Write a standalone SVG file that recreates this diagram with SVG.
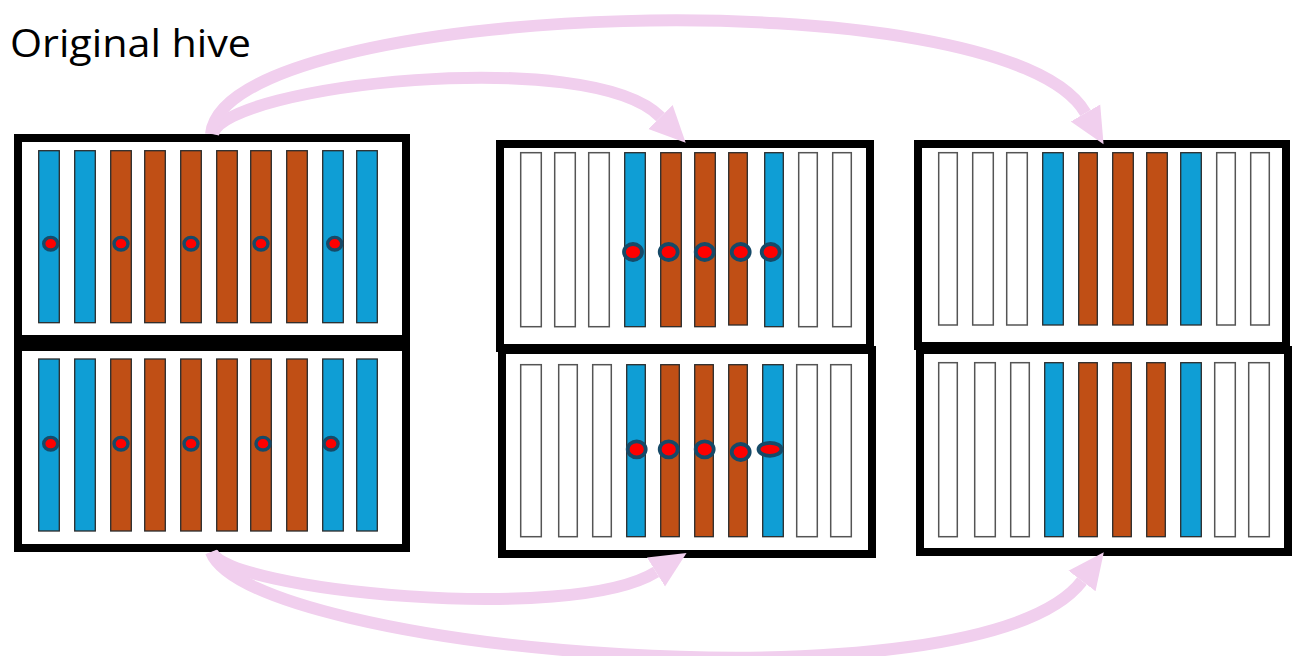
<svg xmlns="http://www.w3.org/2000/svg" width="1292" height="656" viewBox="0 0 1292 656">
<defs>
<style>
.box{fill:#fff;stroke:#000;stroke-width:8}
.b{fill:#0F9ED5;stroke:#2b2b2b;stroke-width:1.3}
.o{fill:#C04F15;stroke:#2b2b2b;stroke-width:1.3}
.w{fill:#fff;stroke:#555;stroke-width:1.5}
.d{fill:#FF0000;stroke:#164A68;stroke-width:3.4}
.dl{fill:#FF0000;stroke:#164A68;stroke-width:3.8}
.arc{fill:none;stroke:#F1CFEE;stroke-width:12}
.title{font-family:"Open Sans","Noto Sans",sans-serif;font-size:38px;fill:#000}
</style>
<marker id="ah" markerUnits="userSpaceOnUse" markerWidth="40" markerHeight="40" viewBox="0 -20 40 40" refX="0" refY="0" orient="auto">
<path d="M0,-17 L36,0 L0,17 z" fill="#F1CFEE"/>
</marker>
</defs>
<rect width="1292" height="656" fill="#fff"/>
<text class="title" x="10" y="57" textLength="241" lengthAdjust="spacingAndGlyphs">Original hive</text>

<g id="hive-original-top">
<rect class="box" x="18" y="138" width="388" height="201"/>
<rect class="b" x="38.7" y="150.7" width="20.6" height="172"/>
<rect class="b" x="74.7" y="150.7" width="20.6" height="172"/>
<rect class="o" x="110.7" y="150.7" width="20.6" height="172"/>
<rect class="o" x="144.7" y="150.7" width="20.6" height="172"/>
<rect class="o" x="180.7" y="150.7" width="20.6" height="172"/>
<rect class="o" x="216.7" y="150.7" width="20.6" height="172"/>
<rect class="o" x="250.7" y="150.7" width="20.6" height="172"/>
<rect class="o" x="286.7" y="150.7" width="20.6" height="172"/>
<rect class="b" x="322.7" y="150.7" width="20.6" height="172"/>
<rect class="b" x="356.7" y="150.7" width="20.6" height="172"/>
<ellipse class="d" cx="50.7" cy="243.7" rx="7" ry="6.3"/>
<ellipse class="d" cx="121" cy="243.7" rx="7" ry="6.3"/>
<ellipse class="d" cx="191" cy="243.7" rx="7" ry="6.3"/>
<ellipse class="d" cx="261" cy="243.7" rx="7" ry="6.3"/>
<ellipse class="d" cx="334.7" cy="243.7" rx="7" ry="6.3"/>
</g>

<g id="hive-original-bottom">
<rect class="box" x="18" y="347" width="388" height="201"/>
<rect class="b" x="38.7" y="359" width="20.6" height="172"/>
<rect class="b" x="74.7" y="359" width="20.6" height="172"/>
<rect class="o" x="110.7" y="359" width="20.6" height="172"/>
<rect class="o" x="144.7" y="359" width="20.6" height="172"/>
<rect class="o" x="180.7" y="359" width="20.6" height="172"/>
<rect class="o" x="216.7" y="359" width="20.6" height="172"/>
<rect class="o" x="250.7" y="359" width="20.6" height="172"/>
<rect class="o" x="286.7" y="359" width="20.6" height="172"/>
<rect class="b" x="322.7" y="359" width="20.6" height="172"/>
<rect class="b" x="356.7" y="359" width="20.6" height="172"/>
<ellipse class="d" cx="50.7" cy="443.7" rx="7" ry="6.3"/>
<ellipse class="d" cx="121" cy="443.7" rx="7" ry="6.3"/>
<ellipse class="d" cx="191" cy="443.7" rx="7" ry="6.3"/>
<ellipse class="d" cx="263" cy="443.7" rx="7" ry="6.3"/>
<ellipse class="d" cx="331" cy="443.7" rx="7" ry="6.3"/>
</g>

<g id="hive-split-a-top">
<rect class="box" x="500" y="144" width="370" height="204"/>
<rect class="w" x="520.7" y="152.7" width="20.6" height="174"/>
<rect class="w" x="554.7" y="152.7" width="20.6" height="174"/>
<rect class="w" x="588.7" y="152.7" width="20.6" height="174"/>
<rect class="b" x="624.7" y="152.7" width="20.6" height="174"/>
<rect class="o" x="660.7" y="152.7" width="20.6" height="174"/>
<rect class="o" x="694.7" y="152.7" width="20.6" height="174"/>
<rect class="o" x="728.7" y="152.7" width="18.6" height="172.3"/>
<rect class="b" x="764.7" y="152.7" width="18.6" height="174"/>
<rect class="w" x="798.7" y="152.7" width="18.6" height="174"/>
<rect class="w" x="832.7" y="152.7" width="18.6" height="174"/>
<ellipse class="dl" cx="633" cy="252" rx="9" ry="8"/>
<ellipse class="dl" cx="668.7" cy="252" rx="9" ry="8"/>
<ellipse class="dl" cx="704.7" cy="252" rx="9" ry="8"/>
<ellipse class="dl" cx="740.7" cy="252" rx="9" ry="8"/>
<ellipse class="dl" cx="770.7" cy="252" rx="9" ry="8"/>
</g>

<g id="hive-split-a-bottom">
<rect class="box" x="502" y="350" width="370" height="204"/>
<rect class="w" x="520.7" y="364.7" width="20.6" height="172"/>
<rect class="w" x="558.7" y="364.7" width="18.6" height="172"/>
<rect class="w" x="592.7" y="364.7" width="18.6" height="172"/>
<rect class="b" x="626.7" y="364.7" width="18.6" height="172"/>
<rect class="o" x="660.7" y="364.7" width="18.6" height="172"/>
<rect class="o" x="694.7" y="364.7" width="18.6" height="172"/>
<rect class="o" x="728.7" y="364.7" width="18.6" height="172"/>
<rect class="b" x="762.7" y="364.7" width="20.6" height="172"/>
<rect class="w" x="796.7" y="364.7" width="20.6" height="172"/>
<rect class="w" x="830.7" y="364.7" width="20.6" height="172"/>
<ellipse class="dl" cx="636.7" cy="449.3" rx="9" ry="8"/>
<ellipse class="dl" cx="668.7" cy="449.3" rx="9" ry="8"/>
<ellipse class="dl" cx="704.7" cy="449.3" rx="9" ry="8"/>
<ellipse class="dl" cx="740.7" cy="452" rx="9" ry="8"/>
<ellipse class="dl" cx="770" cy="449.3" rx="11.5" ry="6.5"/>
</g>

<g id="hive-split-b-top">
<rect class="box" x="918" y="144" width="368" height="202"/>
<rect class="w" x="938.7" y="152.7" width="18.6" height="172.3"/>
<rect class="w" x="972.7" y="152.7" width="20.6" height="172.3"/>
<rect class="w" x="1006.7" y="152.7" width="20.6" height="172.3"/>
<rect class="b" x="1042.7" y="152.7" width="20.6" height="172.3"/>
<rect class="o" x="1078.7" y="152.7" width="18.6" height="172.3"/>
<rect class="o" x="1112.7" y="152.7" width="20.6" height="172.3"/>
<rect class="o" x="1146.7" y="152.7" width="20.6" height="172.3"/>
<rect class="b" x="1180.7" y="152.7" width="20.6" height="172.3"/>
<rect class="w" x="1216.7" y="152.7" width="18.6" height="172.3"/>
<rect class="w" x="1250.7" y="152.7" width="18.6" height="172.3"/>
</g>

<g id="hive-split-b-bottom">
<rect class="box" x="920" y="350" width="368" height="202"/>
<rect class="w" x="938.7" y="362.7" width="18.6" height="174"/>
<rect class="w" x="974.7" y="362.7" width="20.6" height="174"/>
<rect class="w" x="1010.7" y="362.7" width="18.6" height="174"/>
<rect class="b" x="1044.7" y="362.7" width="18.6" height="174"/>
<rect class="o" x="1078.7" y="362.7" width="18.6" height="174"/>
<rect class="o" x="1112.7" y="362.7" width="18.6" height="174"/>
<rect class="o" x="1146.7" y="362.7" width="18.6" height="174"/>
<rect class="b" x="1180.7" y="362.7" width="20.6" height="174"/>
<rect class="w" x="1214.7" y="362.7" width="20.6" height="174"/>
<rect class="w" x="1248.7" y="362.7" width="20.6" height="174"/>
</g>

<g id="connectors">
<path class="arc" marker-end="url(#ah)" d="M213,134 C225,85 590,45 660.5,117"/>
<path class="arc" marker-end="url(#ah)" d="M211,134 C225,0 1005,-26 1085.5,113"/>
<path class="arc" marker-end="url(#ah)" d="M212,552 C225,590 571,625 656,572"/>
<path class="arc" marker-end="url(#ah)" d="M211,552 C250,652 980,715 1082,581"/>
</g>
</svg>
